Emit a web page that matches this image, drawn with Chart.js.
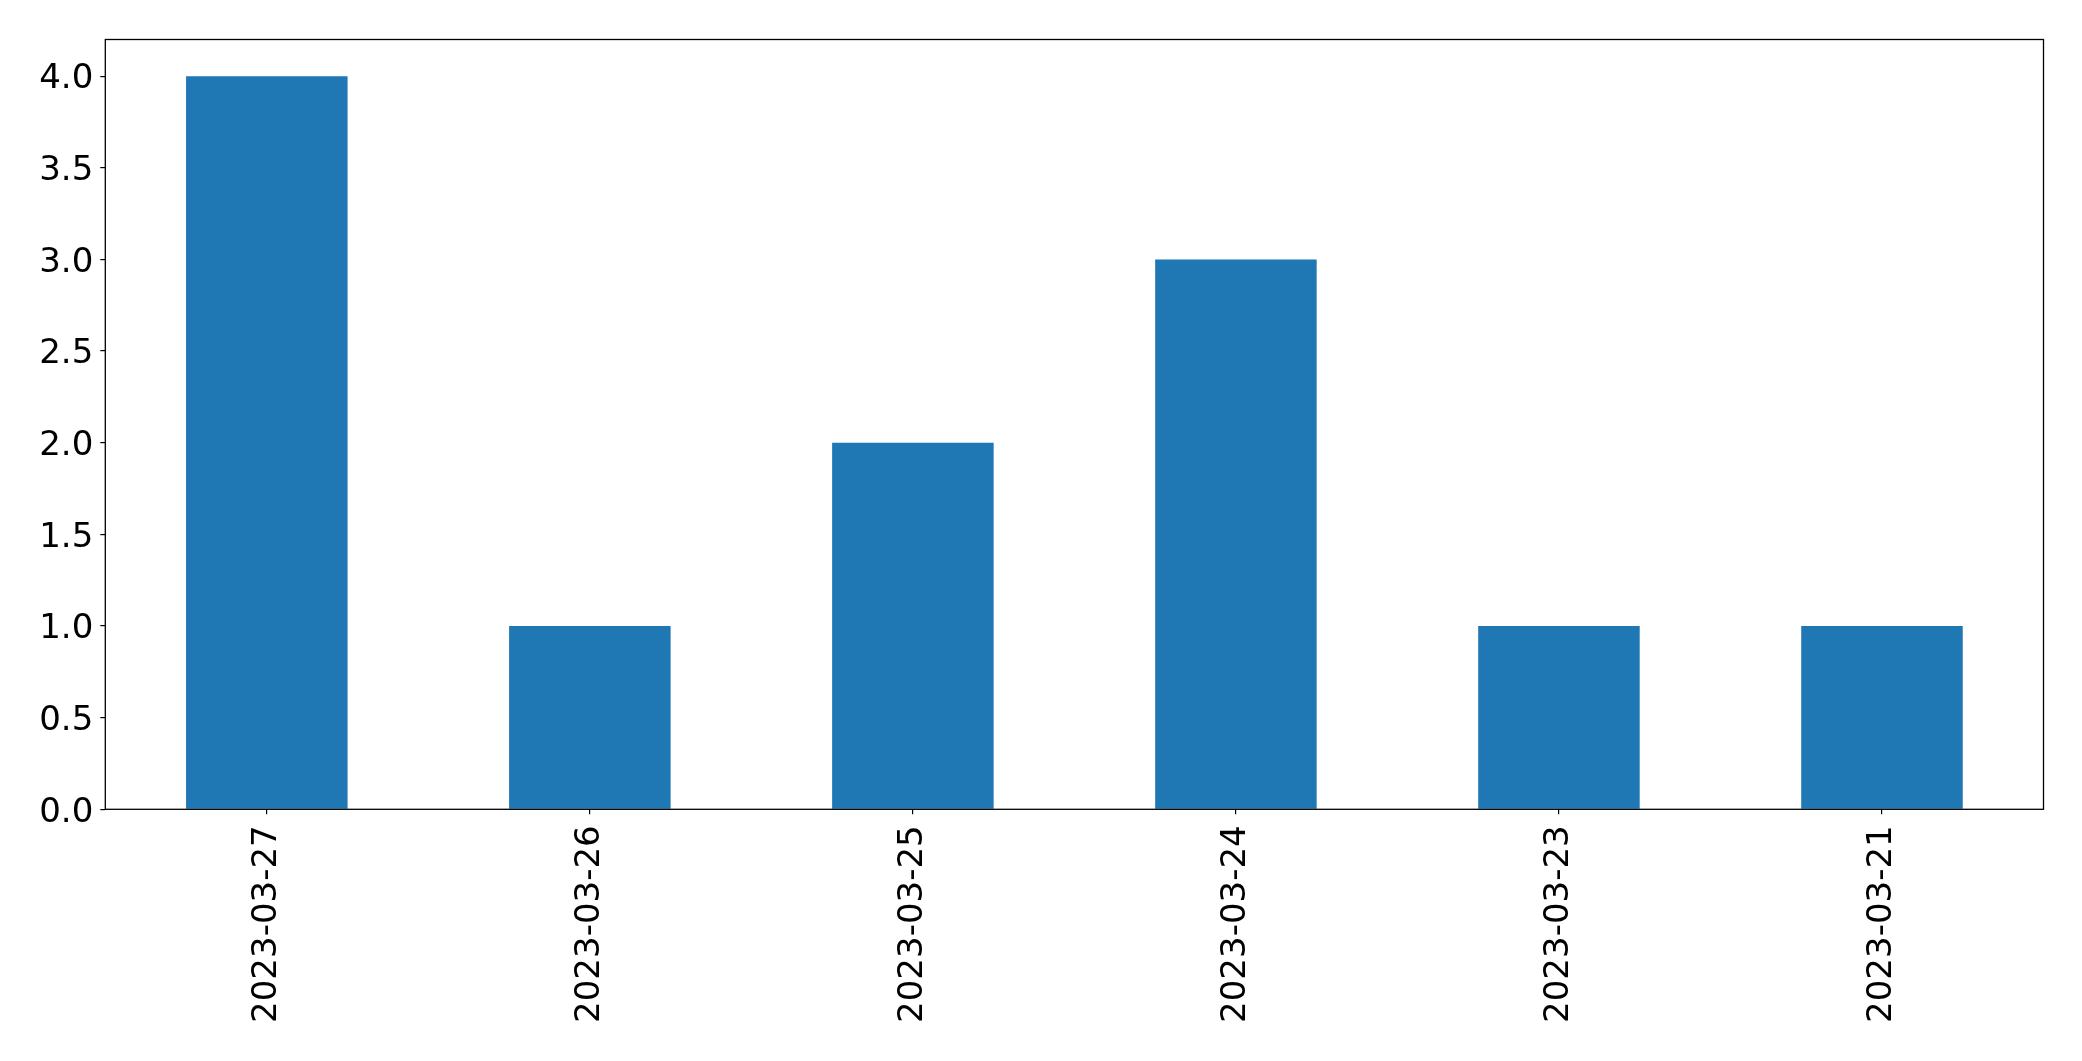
<!DOCTYPE html>
<html>
<head>
<meta charset="utf-8">
<script src="https://cdn.jsdelivr.net/npm/chart.js@4"></script>
<style>
  html, body { margin: 0; padding: 0; background: #ffffff; }
  #wrap { width: 2082px; height: 1061px; }
</style>
</head>
<body>
<div id="wrap"><canvas id="c" width="2082" height="1061"></canvas></div>
<script>
const categories = ["2023-03-27", "2023-03-26", "2023-03-25", "2023-03-24", "2023-03-23", "2023-03-21"];
const counts = [4, 1, 2, 3, 1, 1];
const yTickValues = [0, 0.5, 1.0, 1.5, 2.0, 2.5, 3.0, 3.5, 4.0];

const frame = {
  id: 'frame',
  afterDraw(chart) {
    const a = chart.chartArea, ctx = chart.ctx;
    ctx.save();
    ctx.strokeStyle = '#000';
    ctx.lineWidth = 1.3;
    ctx.strokeRect(a.left, a.top, a.right - a.left, a.bottom - a.top);
    ctx.restore();
  }
};

const font = { family: 'DejaVu Sans', size: 34 };

new Chart(document.getElementById('c'), {
  type: 'bar',
  data: {
    labels: categories,
    datasets: [{
      data: counts,
      backgroundColor: '#1f77b4',
      borderWidth: 0,
      categoryPercentage: 1.0,
      barPercentage: 0.5
    }]
  },
  options: {
    responsive: false,
    animation: false,
    devicePixelRatio: 1,
    layout: { padding: { top: 39.5, right: 38.5, left: 0, bottom: 0 } },
    plugins: { legend: { display: false }, tooltip: { enabled: false } },
    scales: {
      x: {
        offset: true,
        grid: { display: true, drawOnChartArea: false, drawTicks: true, tickLength: 5, color: '#000', lineWidth: 1.2, offset: false },
        border: { display: false },
        ticks: { color: '#000', font: font, minRotation: 90, maxRotation: 90, padding: 11, autoSkip: false },
        afterFit(s) { s.height = 251.7; }
      },
      y: {
        min: 0,
        max: 4.2,
        grid: { display: true, drawOnChartArea: false, drawTicks: true, tickLength: 5, color: '#000', lineWidth: 1.2 },
        border: { display: false },
        ticks: { color: '#000', font: font, padding: 7, labelOffset: 3.5, callback: v => Number(v).toFixed(1) },
        afterBuildTicks(s) { s.ticks = yTickValues.map(v => ({ value: v })); },
        afterFit(s) { s.width = 105.3; }
      }
    }
  },
  plugins: [frame]
});
</script>
</body>
</html>
